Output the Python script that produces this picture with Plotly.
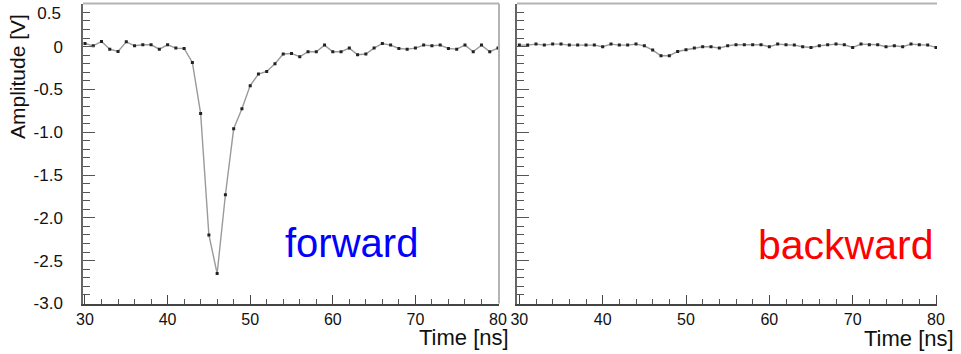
import plotly.graph_objects as go

W, H = 961, 354

time_ns = list(range(30, 81))

forward_v = [0.036, 0.009, 0.060, -0.030, -0.057, 0.056, 0.009, 0.021, 0.021, -0.030,
             0.021, -0.018, -0.022, -0.185, -0.780, -2.200, -2.650, -1.730, -0.960, -0.727,
             -0.456, -0.320, -0.290, -0.200, -0.087, -0.080, -0.119, -0.060, -0.060, 0.017,
             -0.060, -0.060, -0.018, -0.095, -0.087, -0.018, 0.036, 0.017, -0.022, -0.030,
             -0.018, 0.017, 0.009, 0.017, -0.022, -0.030, 0.017, -0.060, 0.017, -0.060,
             -0.018]

backward_v = [0.017, 0.017, 0.029, 0.017, 0.029, 0.029, 0.017, 0.017, 0.017, 0.017,
              -0.002, 0.029, 0.017, 0.017, 0.029, 0.009, -0.041, -0.107, -0.107, -0.057,
              -0.037, -0.018, -0.002, -0.002, -0.018, 0.009, 0.021, 0.021, 0.021, 0.021,
              -0.002, 0.029, 0.021, 0.017, -0.002, -0.010, 0.009, 0.021, 0.029, 0.021,
              -0.010, 0.029, 0.021, 0.021, -0.002, 0.009, -0.002, 0.029, 0.021, 0.017,
              -0.010]

x_ticks = [30, 40, 50, 60, 70, 80]
y_tickvals = [0, -0.5, -1.0, -1.5, -2.0, -2.5, -3.0]
y_ticktext = ["0", "-0.5", "-1.0", "-1.5", "-2.0", "-2.5", "-3.0"]
y_top_tickval = [0.5]
y_top_ticktext = ["0.5"]

FONT = "Liberation Sans, Arial, sans-serif"

def px(x):
    return x / W

def py(y):
    return 1 - y / H

line_style = dict(color="#9a9a9a", width=1.4)
marker_style = dict(symbol="square", size=3, color="#222222")

fig = go.Figure()
fig.add_trace(go.Scatter(x=time_ns, y=forward_v, mode="lines+markers",
                         line=line_style, marker=marker_style,
                         xaxis="x", yaxis="y", showlegend=False))
fig.add_trace(go.Scatter(x=time_ns, y=backward_v, mode="lines+markers",
                         line=line_style, marker=marker_style,
                         xaxis="x2", yaxis="y2", showlegend=False))
# empty trace so that the overlaying label axis (y3) is built
fig.add_trace(go.Scatter(x=[], y=[], mode="lines", xaxis="x", yaxis="y3",
                         showlegend=False, hoverinfo="skip"))

ydom = [py(303.5), py(3.5)]
YRANGE = [-3.0, 0.503]

xaxis_common = dict(
    tickvals=x_ticks, ticks="inside", ticklen=9, tickwidth=1.2, tickcolor="#444",
    minor=dict(dtick=2, tick0=30, ticks="inside", ticklen=5, tickwidth=1, tickcolor="#555"),
    showgrid=False, zeroline=False, showline=True, linecolor="#444", linewidth=2,
    tickfont=dict(family=FONT, size=16, color="#111"), ticklabelstandoff=0,
    automargin=False,
)
yaxis_common = dict(
    range=YRANGE, domain=ydom,
    ticks="inside", ticklen=12, tickwidth=1.2, tickcolor="#555",
    minor=dict(dtick=0.1, tick0=0, ticks="inside", ticklen=7, tickwidth=1, tickcolor="#555"),
    showgrid=False, zeroline=False, showline=True, linecolor="#666", linewidth=1.5,
    automargin=False,
)

fig.update_layout(
    template="none",
    width=W, height=H, margin=dict(l=0, r=0, t=0, b=0, autoexpand=False),
    paper_bgcolor="white", plot_bgcolor="white",
    xaxis=dict(domain=[px(83), px(499)], range=[29.76, 80.12], anchor="y", **xaxis_common),
    yaxis=dict(anchor="x", tickvals=y_tickvals + y_top_tickval, ticktext=y_ticktext + [""],
               ticklabelstandoff=15,
               tickfont=dict(family=FONT, size=17, color="#111"), **yaxis_common),
    yaxis3=dict(overlaying="y", anchor="x", range=YRANGE, side="left",
                tickvals=y_top_tickval, ticktext=y_top_ticktext,
                ticks="inside", ticklen=12, tickcolor="rgba(0,0,0,0)",
                showline=False, showgrid=False, zeroline=False,
                ticklabelstandoff=21, ticklabelshift=9, ticklabeloverflow="allow",
                tickfont=dict(family=FONT, size=17, color="#111"), automargin=False),
    xaxis2=dict(domain=[px(517), px(937)], range=[29.72, 80.12], anchor="y2", **xaxis_common),
    yaxis2=dict(anchor="x2", tickvals=y_tickvals + y_top_tickval, showticklabels=False,
                **yaxis_common),
)

# frame borders (top / right) in light grey
border = dict(color="#b4b4b4", width=2)
fig.add_shape(type="line", xref="x domain", yref="y domain", x0=0, x1=1, y0=1, y1=1, line=border)
fig.add_shape(type="line", xref="x domain", yref="y domain", x0=1, x1=1, y0=0, y1=1, line=border)
fig.add_shape(type="line", xref="x2 domain", yref="y2 domain", x0=0, x1=1, y0=1, y1=1, line=border)

anns = [
    dict(text="Amplitude [V]", x=px(18), y=py(77), textangle=-90, size=21, color="#111"),
    dict(text="Time [ns]", x=px(464), y=py(337), textangle=0, size=22, color="#111"),
    dict(text="Time [ns]", x=px(909), y=py(338), textangle=0, size=22, color="#111"),
    dict(text="forward", x=px(351), y=py(243), textangle=0, size=40, color="#0000ff"),
    dict(text="backward", x=px(845), y=py(245), textangle=0, size=41, color="#ff0000"),
]
for a in anns:
    fig.add_annotation(text=a["text"], x=a["x"], y=a["y"], xref="paper", yref="paper",
                       xanchor="center", yanchor="middle", showarrow=False,
                       textangle=a["textangle"],
                       font=dict(family=FONT, size=a["size"], color=a["color"]))

fig.write_html("out.html", config={"displayModeBar": False},
               post_script="document.body.style.margin='0';document.body.style.padding='0';document.body.style.overflow='hidden';")
